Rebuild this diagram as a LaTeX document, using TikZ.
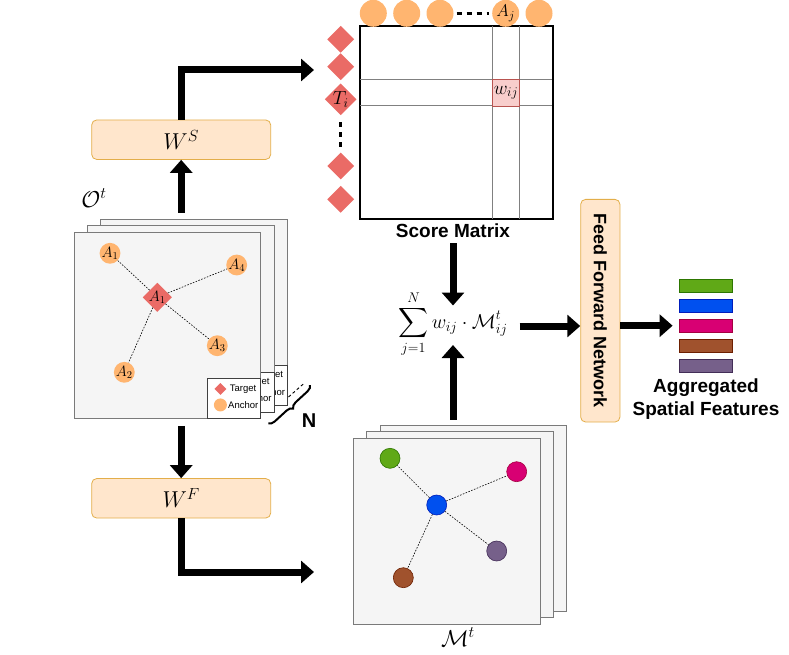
\RequirePackage{fix-cm}
\documentclass[tikz,border=0pt]{standalone}
\usepackage{exscale}
\usepackage{fontspec}
\newfontfamily\hv{Liberation Sans}
\usetikzlibrary{arrows.meta,shapes.geometric,decorations.pathreplacing}
\definecolor{panelfill}{HTML}{F5F5F5}
\definecolor{panelgray}{HTML}{7A7A7A}
\definecolor{anc}{HTML}{FFB570}
\definecolor{tgt}{HTML}{EA6B66}
\definecolor{peach}{HTML}{FFE6CC}
\definecolor{peachdraw}{HTML}{E3AE4A}
\definecolor{cellfill}{HTML}{F8CECC}
\definecolor{celldraw}{HTML}{B85450}
\definecolor{fgreen}{HTML}{60A917}\definecolor{fgreenD}{HTML}{2D7600}
\definecolor{fblue}{HTML}{0050EF}\definecolor{fblueD}{HTML}{001DBC}
\definecolor{fmag}{HTML}{D80073}\definecolor{fmagD}{HTML}{A50040}
\definecolor{fbrown}{HTML}{A0522D}\definecolor{fbrownD}{HTML}{6D1F00}
\definecolor{fpurp}{HTML}{76608A}\definecolor{fpurpD}{HTML}{432D57}
\begin{document}
\begin{tikzpicture}[x=1pt,y=-1pt,
  panel/.style={draw=panelgray, fill=panelfill, line width=0.9pt, minimum width=186.5pt, minimum height=186pt, inner sep=0pt},
  ancc/.style={circle, fill=anc, inner sep=0pt, minimum size=#1},
  tgtd/.style={diamond, fill=tgt, inner sep=0pt, minimum size=#1},
  wbox/.style={draw=peachdraw, fill=peach, rounded corners=5pt, minimum width=179pt, minimum height=39.5pt, line width=0.8pt, font=\fontsize{23}{27}\selectfont},
  big/.style={line width=7pt, -{Triangle[length=13pt,width=22pt]}},
  dotl/.style={line width=0.6pt, dash pattern=on 1.6pt off 1.4pt},
  fbar/.style={minimum width=53pt, minimum height=13pt, inner sep=0pt, line width=0.8pt},
  mcirc/.style={circle, inner sep=0pt, minimum size=20pt, line width=0.6pt},
  legbox/.style={draw=black!75, fill=white, minimum width=53pt, minimum height=40pt, inner sep=0pt, line width=0.7pt},
  legtxt/.style={font=\hv\fontsize{9.5}{11}\selectfont, inner sep=0pt, anchor=west},
  blab/.style={font=\hv\bfseries\fontsize{19}{23}\selectfont, inner sep=0pt},
  smallmath/.style={font=\fontsize{15}{17}\selectfont},
  gridl/.style={draw=black!50, line width=1pt},
  thickdash/.style={line width=2.6pt, dash pattern=on 5pt off 5pt}
]
\useasboundingbox (0,0) rectangle (789,655);

% ---------- left stack of observation panels ----------
\foreach \dx/\dy/\nm in {26.7/-13.3/c, 13.3/-6.7/b, 0/0/a} {
  \node[panel] (pan\nm) at (167.4+\dx, 325.5+\dy) {};
  \node[legbox, anchor=south east] (leg\nm) at (pan\nm.south east) {};
  \node[tgtd=12pt] (legt\nm) at ([xshift=13pt, yshift=-10.7pt]leg\nm.north west) {};
  \node[ancc=13pt] (lega\nm) at ([xshift=13pt, yshift=-26.7pt]leg\nm.north west) {};
  \node[legtxt] (legtt\nm) at ([xshift=22.3pt, yshift=-10.7pt]leg\nm.north west) {Target};
  \node[legtxt] (legat\nm) at ([xshift=20.6pt, yshift=-26.7pt]leg\nm.north west) {Anchor};
}
\node[tgtd=22pt, smallmath] (tg) at (157.3,297.3) {$A_1$};
\node[ancc=20pt, smallmath] (a1) at (110,253.3) {$A_1$};
\node[ancc=20pt, smallmath] (a4) at (236.7,265) {$A_4$};
\node[ancc=20pt, smallmath] (a3) at (217.3,345.7) {$A_3$};
\node[ancc=20pt, smallmath] (a2) at (124.3,372.3) {$A_2$};
\draw[dotl] (tg) -- (a1);
\draw[dotl] (tg) -- (a4);
\draw[dotl] (tg) -- (a3);
\draw[dotl] (tg) -- (a2);

\node[font=\fontsize{23}{27}\selectfont, inner sep=0pt] (olab) at (94,198) {$\mathcal{O}^t$};

% brace N
\coordinate (br1) at (268.3,423.3);
\coordinate (br2) at (310,385);
\draw[line width=2pt, decorate, decoration={brace, amplitude=6pt, mirror}] (br1) -- (br2);
\coordinate (bd1) at (288.5,397);
\coordinate (bd2) at (305,382.5);
\draw[line width=0.9pt, dash pattern=on 3pt off 2.5pt] (bd1) -- (bd2);
\node[font=\hv\bfseries\fontsize{20}{24}\selectfont, inner sep=0pt] (nlab) at (309,421) {N};

% ---------- W boxes ----------
\node[wbox] (ws) at (181.2,139.7) {$W^S$};
\node[wbox] (wf) at (181.2,498.3) {$W^F$};

% ---------- score matrix ----------
\node[draw=black, line width=1.3pt, minimum width=192.3pt, minimum height=193pt, inner sep=0pt] (sm) at (456.2,122.5) {};
\coordinate (c1t) at (492.7,26); \coordinate (c1b) at (492.7,219);
\coordinate (c2t) at (519.3,26); \coordinate (c2b) at (519.3,219);
\coordinate (r1l) at (360,79.3); \coordinate (r1r) at (552.3,79.3);
\coordinate (r2l) at (360,106); \coordinate (r2r) at (552.3,106);
\draw[gridl] (c1t) -- (c1b);
\draw[gridl] (c2t) -- (c2b);
\draw[gridl] (r1l) -- (r1r);
\draw[gridl] (r2l) -- (r2r);
\node[draw=celldraw, fill=cellfill, line width=0.9pt, minimum width=26.6pt, minimum height=26.7pt, inner sep=0pt, font=\fontsize{19}{21}\selectfont] (wij) at (506,92.7) {$w_{ij}$};
\draw[line width=1.3pt] (sm.north west) rectangle (sm.south east);

% anchors on top
\node[ancc=27pt] (ta1) at (373.3,13.3) {};
\node[ancc=27pt] (ta2) at (406.7,13.3) {};
\node[ancc=27pt] (ta3) at (440,13.3) {};
\node[ancc=27pt, font=\fontsize{17}{19}\selectfont] (taj) at (505.7,13.3) {$A_j$};
\node[ancc=27pt] (ta5) at (539,13.3) {};
\draw[thickdash] ([xshift=3pt]ta3.east) -- ([xshift=-3pt]taj.west);

% targets on the left
\node[tgtd=27pt] (td1) at (340.7,39.3) {};
\node[tgtd=27pt] (td2) at (340.7,66.7) {};
\node[tgtd=27pt, font=\fontsize{19}{21}\selectfont] (tdi) at (340.7,99.3) {$T_i$};
\node[tgtd=27pt] (td4) at (340.7,166) {};
\node[tgtd=27pt] (td5) at (340.7,199.3) {};
\draw[thickdash] ([yshift=-7pt]tdi.south) -- ([yshift=3pt]td4.north);

\node[blab] (smlab) at (453,231) {Score Matrix};

% ---------- memory stack ----------
\foreach \dx/\dy/\nm in {26.7/-13.3/c, 13.3/-6.7/b, 0/0/a} {
  \node[panel] (mp\nm) at (446.7+\dx, 531.3+\dy) {};
}
\node[mcirc, fill=fgreen, draw=fgreenD] (mg) at (390,458.3) {};
\node[mcirc, fill=fmag, draw=fmagD] (mm) at (516.7,471.7) {};
\node[mcirc, fill=fblue, draw=fblueD] (mb) at (436.7,505) {};
\node[mcirc, fill=fpurp, draw=fpurpD] (mpu) at (496.7,551) {};
\node[mcirc, fill=fbrown, draw=fbrownD] (mbr) at (403.3,577.7) {};
\draw[dotl] (mb) -- (mg);
\draw[dotl] (mb) -- (mm);
\draw[dotl] (mb) -- (mpu);
\draw[dotl] (mb) -- (mbr);
\node[font=\fontsize{23}{27}\selectfont, inner sep=0pt] (mlab) at (458,637) {$\mathcal{M}^t$};

% ---------- aggregation ----------
\node[font=\fontsize{20}{24}\selectfont, inner sep=0pt] (sum) at (453,324) {$\displaystyle\sum_{j=1}^{N} w_{ij}\cdot\mathcal{M}_{ij}^{t}$};
\coordinate (sumtop) at (453,305.5);
\coordinate (sumbot) at (453,345);
\coordinate (sumright) at (519.5,326);

\node[draw=peachdraw, fill=peach, rounded corners=5pt, line width=0.8pt, minimum width=222.7pt, minimum height=39.3pt, inner sep=0pt, rotate=-90, font=\hv\bfseries\fontsize{18}{22}\selectfont] (ffn) at (600.3,310.7) {Feed Forward Network};

\node[fbar, fill=fgreen, draw=fgreenD] (f1) at (706,286) {};
\node[fbar, fill=fblue, draw=fblueD] (f2) at (706,305.7) {};
\node[fbar, fill=fmag, draw=fmagD] (f3) at (706,325.7) {};
\node[fbar, fill=fbrown, draw=fbrownD] (f4) at (706,345.7) {};
\node[fbar, fill=fpurp, draw=fpurpD] (f5) at (706,365.7) {};
\node[blab, align=center, font=\hv\bfseries\fontsize{19}{23.4}\selectfont] (aglab) at (706,399) {Aggregated\\Spatial Features};

% ---------- arrows ----------
\coordinate (inS) at (314,70);
\coordinate (inF) at (314,572);
\draw[big] ([yshift=6pt]panc.north -| ws.south) -- (ws.south);
\draw[big] (ws.north) |- (inS);
\draw[big] ([yshift=-7pt]pana.south -| wf.north) -- (wf.north);
\draw[big] (wf.south) |- (inF);
\draw[big] ([yshift=-5pt]smlab.south -| sumtop) -- (sumtop);
\draw[big] ([yshift=5pt]mpc.north -| sumbot) -- (sumbot);
\draw[big] (sumright) -- (sumright -| ffn.south);
\draw[big] (ffn.north |- f3) -- ([xshift=-6.5pt]f3.west);
\end{tikzpicture}
\end{document}
